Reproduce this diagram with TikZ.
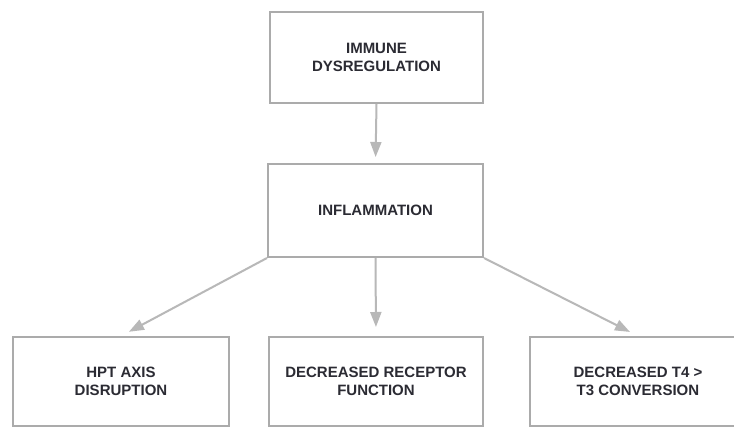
\documentclass[tikz,border=0pt]{standalone}
\usepackage{fontspec}
\setmainfont{Liberation Sans}
\usetikzlibrary{arrows.meta}
\definecolor{boxgray}{HTML}{ABABAB}
\definecolor{arrgray}{HTML}{B8B8B8}
\definecolor{txt}{HTML}{2B2B33}
\begin{document}
\begin{tikzpicture}[x=1pt,y=-1pt,
  box/.style={draw=boxgray, line width=2pt, rectangle, inner sep=0pt,
    minimum width=#1, minimum height=90pt, align=center, text=txt,
    font=\bfseries\fontsize{15}{18}\selectfont},
  box/.default=214pt,
  conn/.style={draw=arrgray, line width=2pt,
    -{Triangle[length=15pt,width=11pt]}, color=arrgray}]
\useasboundingbox (0,0) rectangle (734,428);
\fill[white] (0,0) rectangle (734,428);
\node[box=213pt, minimum height=91pt] (immune) at (376.5,57.5) {IMMUNE\\DYSREGULATION};
\node[box=215pt, minimum height=93pt] (inflam) at (375.5,210.5) {INFLAMMATION};
\node[box=216pt, minimum height=89pt] (hpt) at (121,381.5) {HPT AXIS\\DISRUPTION};
\node[box=214pt, minimum height=89pt] (recep) at (376,381.5) {DECREASED RECEPTOR\\FUNCTION};
\node[box=216pt, minimum height=89pt] (conv) at (638,381.5) {DECREASED T4 >\\T3 CONVERSION};
\draw[conn, shorten >=6pt] (immune.south) -- (inflam.north);
\draw[conn, shorten >=9pt] (inflam.south west) -- (hpt.north);
\draw[conn, shorten >=9pt] (inflam.south) -- (recep.north);
\draw[conn, shorten >=9pt] (inflam.south east) -- (conv.north);
\end{tikzpicture}
\end{document}
